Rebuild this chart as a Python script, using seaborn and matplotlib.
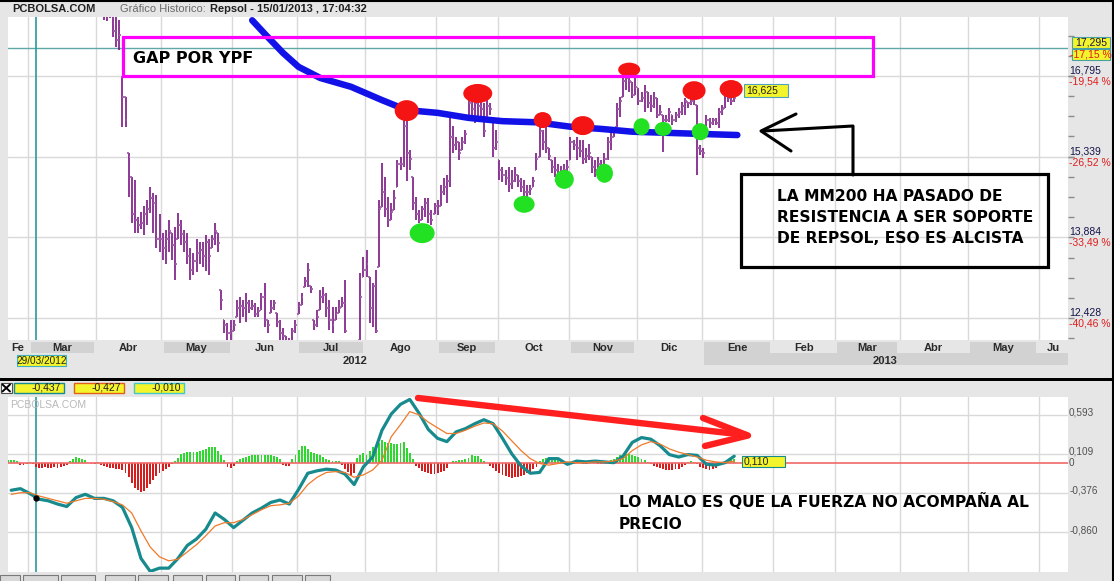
import numpy as np
import pandas as pd
import matplotlib
matplotlib.use("Agg")
import matplotlib.pyplot as plt
import matplotlib.patches as mpatches
import matplotlib.lines as mlines
import matplotlib.transforms as mtransforms
import seaborn as sns

W, H = 1114, 581

# ---- datos (Repsol, barras diarias) ----
price_start = "2012-04-03"
highs = [18.90, 18.50, 18.30, 18.20, 18.10, 17.95, 17.80,
         16.78, 16.42, 15.41, 14.97, 14.92, 14.25, 14.35, 14.45, 14.55, 14.79,
         14.68, 14.65, 14.30, 13.96, 14.02, 14.20, 13.96, 14.07, 14.32, 14.20,
         14.02, 13.96, 13.70, 13.60, 13.85, 13.80, 13.80, 13.92, 13.86, 13.92,
         14.14, 13.96, 12.93, 12.39, 12.34, 12.39, 12.39, 12.75, 12.81, 12.75,
         12.88, 12.75, 12.75, 12.70, 12.63, 12.88, 13.06, 12.39, 12.75, 12.75,
         12.51, 12.39, 12.25, 12.10, 12.06, 12.25, 12.39, 12.72, 12.88, 13.17,
         13.42, 13.00, 12.39, 12.57, 12.93, 12.99, 12.88, 12.75, 12.63, 12.63,
         12.75, 12.81, 13.11, 12.00, 11.95, 12.00, 12.02, 13.24, 13.53, 13.66,
         13.17, 13.06, 13.30, 14.56, 15.23, 14.97, 14.61, 14.50, 14.74, 15.28,
         15.33, 16.00, 16.00, 15.46, 14.97, 14.61, 14.38, 14.45, 14.60, 14.60,
         14.38, 14.50, 14.55, 14.83, 14.95, 15.00, 16.06, 15.90, 15.70, 15.60,
         15.70, 15.82, 16.42, 16.36, 16.42, 16.38, 16.36, 16.30, 16.36, 16.30,
         16.00, 15.82, 15.28, 15.15, 15.10, 15.15, 15.10, 15.15, 15.00, 14.95,
         14.92, 14.83, 14.83, 14.97, 15.40, 15.88, 15.82, 15.88, 15.50, 15.28,
         15.33, 15.20, 15.18, 15.20, 15.28, 15.70, 15.64, 15.70, 15.64, 15.64,
         15.50, 15.57, 15.33, 15.28, 15.33, 15.28, 15.40, 15.70, 15.82, 15.88,
         16.30, 16.42, 16.78, 16.85,
         16.76, 16.69, 16.76, 16.58, 16.51, 16.63, 16.51, 16.45, 16.51, 16.40,
         16.27, 16.09, 16.09, 16.22, 16.09, 16.15, 16.22, 16.33, 16.40, 16.33,
         16.40, 16.45, 16.27, 15.55, 15.50, 16.09, 16.04, 16.04, 16.04, 16.22,
         16.27, 16.51, 16.45, 16.45, 16.45]
lows = [18.00, 17.80, 17.78, 17.85, 17.50, 17.32, 17.26,
        15.88, 15.88, 14.61, 14.14, 13.96, 13.96, 14.04, 13.92, 14.10, 14.32,
        13.96, 13.70, 13.62, 13.48, 13.40, 13.62, 13.48, 13.11, 13.85, 13.75,
        13.62, 13.40, 13.11, 13.20, 13.25, 13.40, 13.35, 13.28, 13.20, 13.70,
        13.75, 13.62, 12.57, 12.16, 12.03, 12.03, 12.20, 12.45, 12.33, 12.45,
        12.36, 12.51, 12.57, 12.45, 12.45, 12.57, 12.27, 12.16, 12.51, 12.57,
        12.27, 12.03, 11.95, 11.80, 11.75, 11.85, 12.16, 12.50, 12.66, 12.99,
        12.99, 12.88, 12.21, 12.27, 12.57, 12.70, 12.45, 12.21, 12.16, 12.39,
        12.51, 12.63, 12.16, 11.70, 11.60, 11.65, 11.75, 12.03, 13.17, 13.17,
        12.34, 12.27, 12.16, 13.35, 14.43, 14.25, 14.07, 14.20, 14.38, 14.79,
        15.10, 15.15, 14.90, 15.10, 14.38, 14.20, 14.14, 14.20, 14.25, 14.14,
        14.10, 14.30, 14.28, 14.45, 14.65, 14.50, 14.79, 15.41, 15.46, 15.28,
        15.46, 15.57, 16.06, 16.10, 15.94, 16.05, 16.06, 15.70, 16.06, 16.10,
        15.33, 15.46, 14.92, 14.88, 14.83, 14.70, 14.75, 14.88, 14.79, 14.70,
        14.61, 14.56, 14.65, 14.79, 15.10, 15.33, 15.46, 15.41, 15.28, 15.05,
        14.97, 14.97, 14.95, 15.05, 15.00, 15.28, 15.46, 15.28, 15.33, 15.20,
        15.22, 15.28, 15.05, 14.97, 15.10, 15.05, 15.10, 15.28, 15.46, 15.70,
        15.88, 16.06, 16.42, 16.55,
        16.51, 16.40, 16.45, 16.27, 16.33, 16.15, 16.22, 16.15, 16.22, 16.04,
        16.09, 15.42, 15.96, 15.96, 15.91, 15.96, 16.04, 16.09, 16.09, 16.22,
        16.27, 16.27, 15.01, 15.37, 15.32, 15.86, 15.86, 15.91, 15.91, 15.86,
        16.09, 16.22, 16.33, 16.27, 16.33]
closes = [18.20, 17.95, 17.90, 18.00, 17.60, 17.45, 17.53,
          16.42, 16.00, 15.33, 14.30, 14.20, 14.10, 14.15, 14.30, 14.40, 14.60,
          14.50, 13.85, 13.85, 13.70, 13.85, 14.00, 13.75, 13.40, 14.10, 13.95,
          13.80, 13.55, 13.30, 13.45, 13.60, 13.65, 13.55, 13.80, 13.55, 13.85,
          14.00, 13.78, 12.75, 12.30, 12.15, 12.20, 12.30, 12.60, 12.65, 12.60,
          12.70, 12.60, 12.65, 12.50, 12.55, 12.80, 12.40, 12.30, 12.60, 12.70,
          12.35, 12.15, 12.10, 11.95, 11.95, 12.20, 12.30, 12.65, 12.80, 13.10,
          13.30, 12.95, 12.30, 12.45, 12.80, 12.85, 12.60, 12.40, 12.30, 12.50,
          12.60, 12.70, 12.20, 11.85, 11.80, 11.90, 11.95, 12.80, 13.30, 13.40,
          12.60, 13.00, 12.20, 14.40, 14.70, 14.40, 14.20, 14.35, 14.60, 15.20,
          15.20, 15.90, 15.40, 15.30, 14.50, 14.30, 14.20, 14.40, 14.50, 14.30,
          14.20, 14.45, 14.40, 14.70, 14.80, 14.90, 15.70, 15.55, 15.60, 15.40,
          15.60, 15.75, 16.30, 16.20, 16.30, 16.25, 16.20, 15.80, 16.25, 16.20,
          15.50, 15.60, 15.10, 15.00, 14.95, 14.85, 14.90, 15.00, 14.90, 14.80,
          14.70, 14.70, 14.75, 14.90, 15.30, 15.80, 15.60, 15.50, 15.35, 15.15,
          15.10, 15.05, 15.08, 15.10, 15.15, 15.60, 15.55, 15.50, 15.45, 15.30,
          15.35, 15.40, 15.15, 15.05, 15.20, 15.15, 15.30, 15.60, 15.70, 15.80,
          16.20, 16.35, 16.70, 16.75,
          16.70, 16.45, 16.60, 16.35, 16.40, 16.50, 16.30, 16.25, 16.40, 16.10,
          16.15, 16.00, 16.00, 16.15, 16.00, 16.10, 16.15, 16.25, 16.35, 16.30,
          16.35, 16.40, 15.50, 15.45, 15.40, 16.00, 15.95, 16.00, 15.95, 16.15,
          16.20, 16.45, 16.40, 16.35, 16.40]

# media movil 200 (trazo azul del grafico)
mm200_dates = ["2012-06-11", "2012-06-18", "2012-06-25", "2012-07-02", "2012-07-11",
               "2012-07-25", "2012-08-08", "2012-08-20", "2012-09-03", "2012-09-17",
               "2012-10-02", "2012-10-17", "2012-11-01", "2012-11-15", "2012-11-29",
               "2012-12-14", "2012-12-31", "2013-01-16"]
mm200_vals = [17.80, 17.50, 17.21, 16.96, 16.76, 16.60, 16.36, 16.18, 16.13, 16.04,
              15.98, 15.96, 15.88, 15.84, 15.79, 15.77, 15.75, 15.73]

# maximos (rojo) y minimos (verde) marcados
red_dates = ["2012-08-20", "2012-09-20", "2012-10-19", "2012-11-07", "2012-11-28",
             "2012-12-27", "2013-01-14"]
red_prices = [16.17, 16.48, 16.00, 15.90, 16.91, 16.53, 16.56]
green_dates = ["2012-08-27", "2012-10-11", "2012-10-30", "2012-11-16", "2012-12-04",
               "2012-12-13", "2012-12-31"]
green_prices = [13.96, 14.48, 14.93, 15.04, 15.88, 15.84, 15.79]

# MACD y senal: una muestra cada 3 sesiones
macd_start = "2012-02-22"
macd_vals = [-0.34, -0.32, -0.38, -0.45, -0.47, -0.51, -0.54, -0.43, -0.39, -0.44,
             -0.44, -0.47, -0.55, -0.80, -1.18, -1.34, -1.30, -1.30, -1.18, -1.02,
             -0.94, -0.82, -0.62, -0.70, -0.80, -0.71, -0.62, -0.56, -0.49, -0.46,
             -0.51, -0.33, -0.13, -0.10, -0.08, -0.09, -0.14, -0.27, -0.05, 0.07,
             0.40, 0.60, 0.72, 0.78, 0.61, 0.41, 0.30, 0.26, 0.38, 0.42,
             0.48, 0.53, 0.48, 0.30, 0.11, -0.04, -0.13, -0.12, 0.05, 0.05,
             -0.02, 0.02, 0.01, 0.02, 0.01, 0.00, 0.08, 0.25, 0.31, 0.29,
             0.21, 0.10, 0.07, 0.10, 0.09, -0.02, -0.03, 0.00, 0.08]
signal_vals = [-0.39, -0.37, -0.37, -0.41, -0.44, -0.47, -0.50, -0.47, -0.44, -0.44,
               -0.45, -0.48, -0.52, -0.62, -0.84, -1.04, -1.16, -1.21, -1.19, -1.10,
               -1.01, -0.90, -0.78, -0.74, -0.74, -0.70, -0.64, -0.58, -0.53, -0.52,
               -0.50, -0.41, -0.27, -0.18, -0.12, -0.11, -0.12, -0.18, -0.15, -0.09,
               0.03, 0.32, 0.47, 0.63, 0.59, 0.50, 0.43, 0.36, 0.36, 0.40,
               0.45, 0.49, 0.48, 0.39, 0.27, 0.15, 0.05, -0.01, -0.03, -0.01,
               0.01, 0.00, 0.00, 0.01, 0.01, 0.02, 0.05, 0.15, 0.22, 0.26,
               0.23, 0.17, 0.13, 0.10, 0.07, 0.03, 0.01, 0.00, 0.02]

# histograma diario
hist_start = "2012-02-21"
hist_vals = [0.03, 0.03, 0.03, 0.02,
             -0.03, -0.03, -0.02, 0.01, -0.01,
             -0.05, -0.06, -0.06, -0.05, -0.06, -0.06, -0.05, -0.06, -0.05, -0.04, -0.03,
             0.02, 0.05, 0.07, 0.06, 0.05, 0.03,
             0.00, -0.01, -0.02, 0.01, -0.03,
             -0.04, -0.05, -0.06, -0.07, -0.08, -0.08, -0.09, -0.13,
             -0.18, -0.25, -0.31, -0.34, -0.36, -0.35, -0.31, -0.26, -0.21,
             -0.17, -0.13, -0.10, -0.08, -0.05, -0.02, 0.02,
             0.06, 0.11, 0.12, 0.13, 0.13, 0.13, 0.13, 0.14, 0.16, 0.17, 0.19, 0.19, 0.19, 0.15, 0.10, 0.03,
             -0.05, -0.06, -0.04,
             0.02, 0.04, 0.06, 0.07, 0.08, 0.09, 0.10, 0.10, 0.10, 0.09, 0.10, 0.09, 0.08, 0.07, 0.04,
             -0.03, -0.04, -0.04,
             0.04, 0.10, 0.16, 0.20, 0.21, 0.17, 0.13, 0.12, 0.11, 0.10, 0.07, 0.05, 0.03,
             0.02, 0.02, 0.02, -0.03,
             -0.08, -0.12, -0.17, -0.13,
             0.06, 0.10, 0.12, 0.10, 0.14, 0.19, 0.22, 0.24, 0.28, 0.26, 0.24, 0.24, 0.23, 0.23, 0.24,
             0.25, 0.18, 0.12, 0.04,
             -0.04, -0.07, -0.10, -0.12, -0.13, -0.14, -0.14, -0.13, -0.12, -0.10, -0.06,
             0.00, 0.02, 0.02, 0.03, 0.03, 0.05, 0.06, 0.09, 0.08, 0.08, 0.05, 0.02, 0.00,
             -0.04, -0.07, -0.10, -0.13, -0.15, -0.17, -0.18, -0.19, -0.18, -0.18, -0.17, -0.15,
             -0.13, -0.11, -0.08, -0.05,
             0.02, 0.04, 0.06, 0.07, 0.06,
             0.05, 0.03, 0.01, -0.01, -0.02, -0.01, 0.01, 0.02, 0.01, -0.01, -0.02, 0.01, 0.02,
             0.01, -0.01, -0.02, -0.01, 0.01, 0.03, 0.05, 0.07,
             0.09, 0.10, 0.11, 0.11, 0.10, 0.08, 0.07, 0.05, 0.03, 0.01,
             -0.02, -0.04, -0.05, -0.07, -0.08, -0.09, -0.09, -0.09, -0.08, -0.08, -0.05, -0.03,
             0.01, 0.02, 0.01, -0.02,
             -0.05, -0.07, -0.08, -0.09, -0.08, -0.06, -0.03,
             0.01, 0.02, 0.03, 0.04, 0.04]

price_ticks = [16.795, 15.339, 13.884, 12.428]
price_labels = ["16,795", "15,339", "13,884", "12,428"]
pct_labels = ["-19,54 %", "-26,52 %", "-33,49 %", "-40,46 %"]
ref_price = 17.295
macd_ticks = [0.593, 0.109, 0.0, -0.376, -0.860]
macd_labels = ["0,593", "0,109", "0", "-0,376", "-0,860"]
month_labels = ["Fe", "Mar", "Abr", "May", "Jun", "Jul", "Ago", "Sep", "Oct", "Nov",
                "Dic", "Ene", "Feb", "Mar", "Abr", "May", "Ju"]
cursor_date = "2012-03-05"
cursor_macd = -0.43

# ---- estilo ----
sns.set_theme(style="white")
plt.rcParams["font.family"] = ["Liberation Sans", "DejaVu Sans"]
BG = "#e6e6e6"
PURPLE = "#7a1784"
TEAL = "#178a8e"
YELLOW = "#f4f42c"
GRID = "#d9d9d9"
P_LIM = (12.0316, 17.8596)
M_LIM = (-1.3477, 0.810)

fig = plt.figure(figsize=(W / 100, H / 100), dpi=100, facecolor=BG)


def fx(x):
    return x / W


def fy(y):
    return 1 - y / H


def rect(x0, y0, x1, y1, fc="none", ec="none", lw=1.0, z=3):
    fig.add_artist(mpatches.Rectangle((fx(x0), fy(y1)), (x1 - x0) / W, (y1 - y0) / H,
                                      transform=fig.transFigure, facecolor=fc,
                                      edgecolor=ec, linewidth=lw, zorder=z))


def line(xs, ys, color, lw, z=4):
    fig.add_artist(mlines.Line2D([fx(x) for x in xs], [fy(y) for y in ys],
                                 transform=fig.transFigure, color=color, lw=lw,
                                 solid_capstyle="round", solid_joinstyle="round", zorder=z))


def text(x, y, s, **kw):
    kw.setdefault("va", "center")
    fig.text(fx(x), fy(y), s, **kw)


ax_p = fig.add_axes([fx(8), fy(340), 1060 / W, 323 / H])
ax_m = fig.add_axes([fx(8), fy(572), 1060 / W, 175 / H])

# eje de sesiones
days = pd.bdate_range("2012-02-20", "2013-06-14")
x_lo, x_hi = (8 - 5) / 3.09, (1068 - 5) / 3.09


def to_pos(d):
    return days.get_indexer(pd.to_datetime(d))


p_pos = to_pos(pd.bdate_range(price_start, periods=len(closes)))
hi = np.array(highs)
lo = np.array(lows)
cl = np.array(closes)
op = np.clip(np.r_[cl[0], cl[:-1]], lo, hi)

for ax in (ax_p, ax_m):
    ax.set_facecolor("white")
    for s in ax.spines.values():
        s.set_visible(False)
    ax.set_xticks([])

# meses
grp = pd.Series(np.arange(len(days)), index=days).groupby([days.year, days.month])
m_first = np.array([g.min() for _, g in grp])
m_last = np.array([g.max() for _, g in grp])
m_center = (np.maximum(m_first - 0.5, x_lo) + np.minimum(m_last + 0.5, x_hi)) / 2
years = [k[0] for k, _ in grp]

for ax in (ax_p, ax_m):
    for b in m_first[1:] - 0.5:
        ax.axvline(b, color=GRID, lw=1, zorder=0.5)

for v in price_ticks:
    ax_p.axhline(v, color=GRID, lw=1, zorder=0.5)
ax_p.axhline(ref_price, color="#5ea8a8", lw=1, zorder=0.6)
for v in macd_ticks:
    if v != 0:
        ax_m.axhline(v, color=GRID, lw=1, zorder=0.5)

cur = to_pos([cursor_date])[0]
for ax in (ax_p, ax_m):
    ax.axvline(cur, color="#2a9a9a", lw=1.2, zorder=1)

# barras OHLC
ax_p.vlines(p_pos, lo, hi, color=PURPLE, lw=1.2, zorder=2)
ax_p.hlines(op, p_pos - 0.6, p_pos, color="#a060a8", lw=1.3, zorder=2)
ax_p.hlines(cl, p_pos, p_pos + 0.6, color="#a060a8", lw=1.3, zorder=2)

# MM200
sns.lineplot(x=to_pos(mm200_dates), y=mm200_vals, ax=ax_p, color="#1212e8",
             linewidth=4.7, sort=False, estimator=None, legend=False, zorder=3)
ax_p.lines[-1].set_solid_capstyle("round")

# puntos rojos y verdes
dx = (x_hi - x_lo) / 1060
dy = (P_LIM[1] - P_LIM[0]) / 323
red_px = [(24, 21), (29, 19), (18, 16), (23, 19), (22, 14), (23, 19), (23, 18)]
green_px = [(25, 20), (21, 17), (19, 19), (17, 19), (16, 17), (17, 14), (17, 17)]
for dates, prices, sizes, col in ((red_dates, red_prices, red_px, "#f41414"),
                                  (green_dates, green_prices, green_px, "#22e022")):
    for xp, yp, (w, h) in zip(to_pos(dates), prices, sizes):
        ax_p.add_patch(mpatches.Ellipse((xp, yp), w * dx, h * dy, facecolor=col,
                                        edgecolor="none", zorder=4))

ax_p.yaxis.tick_right()
ax_p.set_yticks(price_ticks, labels=[])
step = (price_ticks[0] - price_ticks[1]) / 4
ax_p.set_yticks([price_ticks[-1] + k * step for k in range(-1, 16)], minor=True)
ax_p.tick_params(axis="y", which="both", direction="out", length=4, width=1,
                 color="#8c8c8c", labelright=False, right=True)

ytr = ax_p.get_yaxis_transform()
for v, a, b in zip(price_ticks, price_labels, pct_labels):
    ax_p.text(1.0012, v + 0.01, a, transform=ytr, va="bottom", ha="left",
              color="#14144a", fontsize=7.5, clip_on=False)
    ax_p.text(1.0005, v - 0.01, b, transform=ytr, va="top", ha="left",
              color="#e01c1c", fontsize=7.5, clip_on=False)

# indicador MACD
m_pos = to_pos(pd.bdate_range(macd_start, periods=len(macd_vals), freq="3B"))
h_pos = to_pos(pd.bdate_range(hist_start, periods=len(hist_vals)))
hv = np.array(hist_vals)
ax_m.bar(h_pos, hv, width=0.62, color=np.where(hv >= 0, "#2ed82e", "#d41e1e"),
         linewidth=0, zorder=2)
ax_m.axhline(0, color="#f06a6a", lw=1.2, zorder=2.5)
sns.lineplot(x=m_pos, y=macd_vals, ax=ax_m, color=TEAL, linewidth=2.3,
             sort=False, estimator=None, legend=False, zorder=3)
sns.lineplot(x=m_pos, y=signal_vals, ax=ax_m, color="#ee7a2a", linewidth=0.9,
             sort=False, estimator=None, legend=False, zorder=3.5)
ax_m.plot([cur], [cursor_macd], "o", color="black", ms=3.5, zorder=4)
ax_m.set_yticks([])
mtr = ax_m.get_yaxis_transform()
for v, s in zip(macd_ticks, macd_labels):
    ax_m.text(1.001, v + (0.0 if v == 0 else 0.03), s, transform=mtr, va="center",
              ha="left", color="#505050", fontsize=7.2, clip_on=False)

# limites al final (los ticks amplian la vista)
for ax in (ax_p, ax_m):
    ax.set_xlim(x_lo, x_hi)
ax_p.set_ylim(*P_LIM)
ax_m.set_ylim(*M_LIM)

# eje de fechas
bt = mtransforms.blended_transform_factory(ax_p.transData, fig.transFigure)
for i, (a, b) in enumerate(zip(m_first, m_last)):
    if i % 2 == 1:
        x0 = max(a - 0.5, x_lo) + 0.8
        x1 = min(b + 0.5, x_hi) - 0.8
        y1 = 365 if years[i] == 2013 and i == 11 else 353
        ax_p.add_patch(mpatches.Rectangle((x0, fy(y1)), x1 - x0, (y1 - 342) / H,
                                          transform=bt, facecolor="#d2d2d2",
                                          edgecolor="none", clip_on=False, zorder=1))
y13 = m_first[years.index(2013)] - 0.5
ax_p.add_patch(mpatches.Rectangle((y13 + 0.8, fy(365)), x_hi - y13 - 0.8, 12 / H,
                                  transform=bt, facecolor="#d2d2d2", edgecolor="none",
                                  clip_on=False, zorder=1))
for c, s in zip(m_center, month_labels):
    ax_p.text(c, fy(348), s, transform=bt, ha="center", va="center", fontsize=8,
              fontweight="bold", color="#2a2a2a", clip_on=False)
for yr, (a, b) in ((2012, (x_lo, y13)), (2013, (y13, x_hi))):
    ax_p.text((a + b) / 2, fy(360.5), str(yr), transform=bt, ha="center", va="center",
              fontsize=8, fontweight="bold", color="#2a2a2a", clip_on=False)

# cabecera y marcos
line([0, W], [0.5, 0.5], "black", 1.5)
line([W - 1, W - 1], [0, H], "black", 1.5)
text(12, 8.5, "PCBOLSA.COM", fontsize=8, fontweight="bold", color="#202020")
text(120, 8.5, "Gráfico Historico:", fontsize=8, color="#6a6a6a")
text(210, 8.5, "Repsol - 15/01/2013 , 17:04:32", fontsize=8, fontweight="bold", color="#202020")

rect(1072, 37, 1110, 48, fc=YELLOW, ec="#4aa0a0", lw=0.8)
rect(1072, 49, 1110, 60, fc=YELLOW, ec="#4aa0a0", lw=0.8)
text(1091, 42.5, "17,295", fontsize=7.5, color="#14144a", ha="center")
text(1091, 54.5, "-17,15 %", fontsize=7.5, color="#e01c1c", ha="center")

rect(17, 355, 66, 366, fc=YELLOW, ec="#40b0c0", lw=0.8)
text(41.5, 360.5, "29/03/2012", fontsize=7.2, color="#202020", ha="center")

rect(0, 378, W, 381, fc="black")
rect(0.5, 382.5, 12, 393, fc="white", ec="#505050", lw=0.8)
line([2.5, 10], [384.5, 391.5], "black", 1.4)
line([2.5, 10], [391.5, 384.5], "black", 1.4)
for x0, ec, s in ((14, TEAL, "-0,437"), (74, "#e0601a", "-0,427"), (134, "#40c8c8", "-0,010")):
    rect(x0, 382.5, x0 + 50, 393, fc=YELLOW, ec=ec, lw=1)
    text(x0 + 47, 388, s, fontsize=7.5, color="#202020", ha="right")
text(10, 405, "PCBOLSA.COM", fontsize=7.5, color="#b8b8b8")

rect(744, 84, 788, 97, fc=YELLOW, ec="#50a0c0", lw=0.8)
text(746, 90.5, "16,625", fontsize=7.5, color="#202020")
rect(742, 456, 785, 467, fc=YELLOW, ec=TEAL, lw=0.8)
text(744, 461.5, "0,110", fontsize=7.5, color="#202020")

for x0, x1 in ((0, 20), (23, 58), (61, 95), (105, 135), (138, 168), (173, 202),
               (206, 235), (239, 268), (272, 302), (305, 330)):
    rect(x0, 575, x1, 582, fc="#d8d8d8", ec="#7a7a7a", lw=0.8)

# anotaciones
bold = dict(family="DejaVu Sans", fontweight="bold", color="black", va="baseline")
rect(123, 37, 873, 76, ec="#ff00ff", lw=2.3, z=4)
text(133, 63, "GAP POR YPF", fontsize=11.5, **bold)

rect(741, 174, 1048, 267, ec="black", lw=2.3, z=4)
text(777, 201, "LA MM200 HA PASADO DE", fontsize=11.2, **bold)
text(777, 222, "RESISTENCIA A SER SOPORTE", fontsize=11.2, **bold)
text(777, 243, "DE REPSOL, ESO ES ALCISTA", fontsize=11.2, **bold)
line([853, 853, 763], [175, 126, 131], "black", 2.2)
line([796, 761, 791], [114, 131, 151], "black", 2.2)

line([418, 746], [398, 435], "#ff1f1f", 4.6)
line([703, 748, 705], [418, 435.5, 446], "#ff1f1f", 4.6)
text(619, 507, "LO MALO ES QUE LA FUERZA NO ACOMPAÑA AL", fontsize=11.2, **bold)
text(619, 529, "PRECIO", fontsize=11.2, **bold)

fig.savefig("out.png", dpi=100, facecolor=BG)
